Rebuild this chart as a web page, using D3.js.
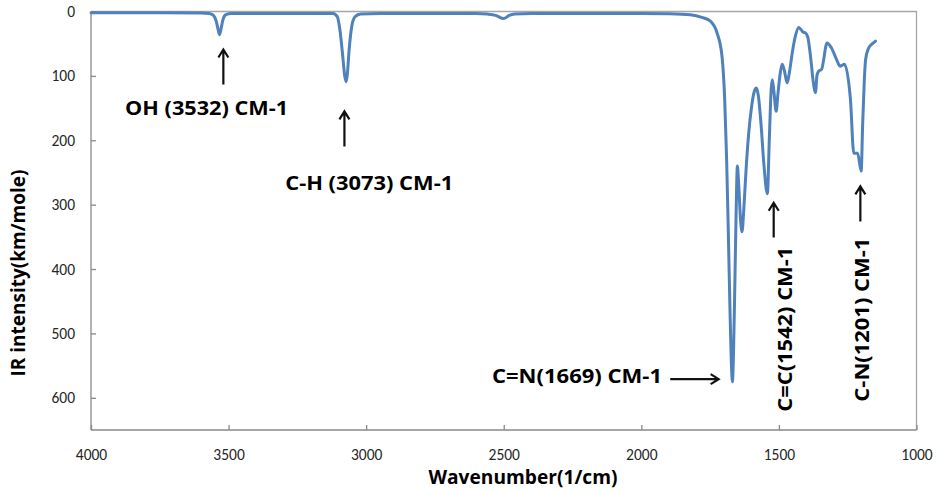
<!DOCTYPE html>
<html>
<head>
<meta charset="utf-8">
<script src="https://cdn.jsdelivr.net/npm/d3@7"></script>
<style>
  html, body { margin: 0; padding: 0; background: #fff; }
  svg { display: block; }
  .tick-label { font-family: Carlito, Calibri, Lato, "Open Sans", sans-serif; font-size: 15.5px; fill: #262626; }
  .bold-label { font-family: "Open Sans", Lato, sans-serif; font-weight: bold; fill: #000; }
</style>
</head>
<body>
<svg id="chart" width="937" height="491"></svg>
<script>
// IR spectrum: wavenumber (1/cm) and intensity (km/mole)
const wavenumbers = [
  4000, 3800, 3600, 3570, 3555, 3545, 3538, 3533, 3528, 3520, 3510, 3490,
  3400, 3300, 3200, 3120, 3105, 3095, 3085, 3078, 3073, 3069, 3062, 3052, 3040, 3020,
  2950, 2800, 2600, 2560, 2530, 2500, 2480, 2460, 2400, 2200, 2000, 1900,
  1822, 1780, 1749, 1725, 1707, 1697, 1690, 1684, 1678, 1672, 1669, 1665, 1660, 1655,
  1651, 1646, 1640, 1634, 1628, 1620, 1610, 1600, 1590, 1582, 1575, 1565, 1555, 1542,
  1535, 1528, 1524, 1518, 1510, 1504, 1495, 1488, 1480, 1470, 1462, 1450, 1440, 1428,
  1420, 1412, 1404, 1395, 1385, 1375, 1367, 1362, 1356, 1345, 1325, 1310, 1290, 1278,
  1262, 1240, 1228, 1214, 1201, 1196, 1190, 1185, 1173, 1160, 1149
];
const intensities = [
  2, 2, 2.5, 3, 6, 15, 28, 36, 28, 12, 5, 3,
  3, 3, 3, 3, 8, 30, 70, 100, 109, 100, 60, 22, 8, 4,
  3, 3, 3, 4, 6, 11, 6, 4, 3, 3, 3, 3.5,
  5, 9, 15, 33, 69, 137, 230, 340, 460, 555, 575, 530, 420, 300,
  240, 270, 320, 342, 310, 250, 190, 150, 125, 119, 130, 175, 235, 283,
  200, 120, 106, 125, 155, 130, 95, 82, 92, 111, 95, 60, 38, 25,
  28, 32, 33, 40, 70, 110, 126, 100, 93, 90, 49, 56, 75, 85,
  82, 137, 220, 220, 248, 180, 110, 75, 56, 50, 46
];

const xTicks = [4000, 3500, 3000, 2500, 2000, 1500, 1000];
const yTicks = [0, 100, 200, 300, 400, 500, 600];

// Peak annotations: text, arrow start/end (wavenumber, intensity), label anchor, text length
const annotations = [
  { text: "OH (3532) CM-1",   arrow: [[3519, 113.5], [3519, 59]],   label: [3580, 160],   anchor: "middle", rotate: false, len: 163 },
  { text: "C-H (3073) CM-1",  arrow: [[3079, 209.5], [3079, 155]],  label: [2989, 277],   anchor: "middle", rotate: false, len: 168 },
  { text: "C=N(1669) CM-1",   arrow: [[1895, 571], [1719, 571]],    label: [1925, 577],   anchor: "end",    rotate: false, len: 170 },
  { text: "C=C(1542) CM-1",   arrow: [[1519, 351], [1519, 297]],    label: [1452, 621.6], anchor: "start",  rotate: true,  len: 165 },
  { text: "C-N(1201) CM-1",   arrow: [[1204, 326], [1204, 271.7]],  label: [1173, 606],   anchor: "start",  rotate: true,  len: 164 }
];

const data = wavenumbers.map((w, i) => ({ w, v: intensities[i] }));

const svg = d3.select("#chart");
const plotLeft = 91, plotRight = 916.5, plotTop = 11.5, plotBottom = 430;

const x = d3.scaleLinear().domain([4000, 1000]).range([plotLeft, plotRight]);
const y = d3.scaleLinear().domain([0, 650]).range([plotTop, plotBottom]);

const axisColor = "#898989";

// plot frame (top and right)
svg.append("path")
  .attr("d", `M${plotLeft},${plotTop}H${plotRight}V${plotBottom}`)
  .attr("fill", "none").attr("stroke", "#a6a6a6").attr("stroke-width", 1.3);

// x axis with inward ticks
const xAxis = svg.append("g")
  .attr("transform", `translate(0,${plotBottom})`)
  .call(d3.axisBottom(x).tickValues(xTicks).tickSize(-5).tickPadding(19).tickFormat(d3.format("d")));
xAxis.attr("font-size", null).attr("font-family", null);
xAxis.select(".domain").attr("stroke", axisColor).attr("stroke-width", 1.3).attr("d", `M${plotLeft},0H${plotRight}`);
xAxis.selectAll(".tick line").attr("stroke", axisColor).attr("stroke-width", 1.3);
xAxis.selectAll(".tick text").attr("class", "tick-label").attr("fill", null);

// y axis (reversed, 0 at top) with inward ticks
const yAxis = svg.append("g")
  .attr("transform", `translate(${plotLeft},0)`)
  .call(d3.axisLeft(y).tickValues(yTicks).tickSize(-5).tickPadding(16).tickFormat(d3.format("d")));
yAxis.attr("font-size", null).attr("font-family", null);
yAxis.select(".domain").attr("stroke", axisColor).attr("stroke-width", 1.3).attr("d", `M0,${plotTop}V${plotBottom}`);
yAxis.selectAll(".tick line").attr("stroke", axisColor).attr("stroke-width", 1.3);
yAxis.selectAll(".tick text").attr("class", "tick-label").attr("fill", null);

// spectrum line
const line = d3.line()
  .x(d => x(d.w))
  .y(d => y(d.v))
  .curve(d3.curveMonotoneX);

svg.append("path")
  .datum(data)
  .attr("d", line)
  .attr("fill", "none")
  .attr("stroke", "#4F81BD")
  .attr("stroke-width", 3)
  .attr("stroke-linejoin", "round")
  .attr("stroke-linecap", "round");

// arrows and peak labels
const ann = svg.append("g");
annotations.forEach(a => {
  const [p0, p1] = a.arrow.map(([w, v]) => [x(w), y(v)]);
  const ang = Math.atan2(p1[1] - p0[1], p1[0] - p0[0]);
  const hl = 8, hw = 5;
  const bx = p1[0] - hl * Math.cos(ang), by = p1[1] - hl * Math.sin(ang);
  const nx = -Math.sin(ang) * hw, ny = Math.cos(ang) * hw;
  ann.append("path")
    .attr("d", `M${p0[0]},${p0[1]}L${p1[0]},${p1[1]}M${bx + nx},${by + ny}L${p1[0]},${p1[1]}L${bx - nx},${by - ny}`)
    .attr("fill", "none").attr("stroke", "#111").attr("stroke-width", 2.2)
    .attr("stroke-linejoin", "miter");

  const lx = x(a.label[0]), ly = y(a.label[1]);
  ann.append("text")
    .attr("class", "bold-label")
    .attr("font-size", 20)
    .attr("text-anchor", a.anchor)
    .attr("textLength", a.len)
    .attr("lengthAdjust", "spacingAndGlyphs")
    .attr("transform", a.rotate ? `translate(${lx},${ly}) rotate(-90)` : `translate(${lx},${ly})`)
    .text(a.text);
});

// axis titles
svg.append("text")
  .attr("class", "bold-label")
  .attr("font-size", 19)
  .attr("text-anchor", "middle")
  .attr("textLength", 189)
  .attr("lengthAdjust", "spacingAndGlyphs")
  .attr("x", 523).attr("y", 484)
  .text("Wavenumber(1/cm)");

svg.append("text")
  .attr("class", "bold-label")
  .attr("font-size", 19)
  .attr("text-anchor", "middle")
  .attr("textLength", 207)
  .attr("lengthAdjust", "spacingAndGlyphs")
  .attr("transform", "translate(25,273) rotate(-90)")
  .text("IR intensity(km/mole)");
</script>
</body>
</html>
